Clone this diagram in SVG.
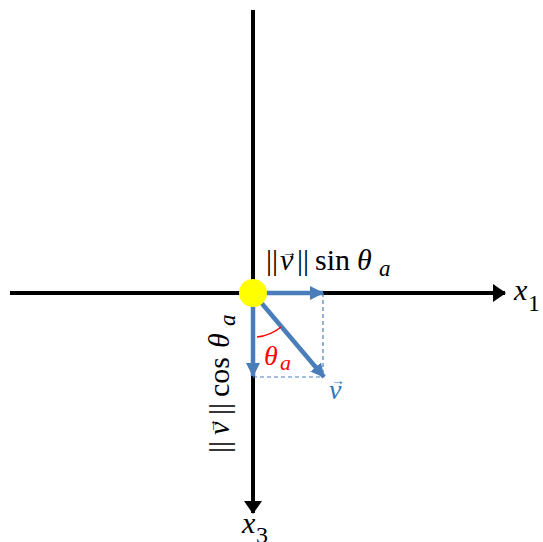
<svg xmlns="http://www.w3.org/2000/svg" width="543" height="542" viewBox="0 0 543 542">
<style>
.ax{stroke:#000;stroke-width:4;fill:none}
.bl{stroke:#4A7EBB;stroke-width:4.5;fill:none}
.dash{stroke:#4A7EBB;stroke-width:1.2;stroke-dasharray:4 3;fill:none}
.t{font-family:"Liberation Serif","DejaVu Serif",serif;fill:#000}
.i{font-style:italic}
.acc{font-style:normal}
</style>
<defs>
<marker id="ka" markerUnits="userSpaceOnUse" markerWidth="14" markerHeight="18" refX="12" refY="9" orient="auto"><path d="M0,0 L13,9 L0,18 Z" fill="#000"/></marker>
<marker id="ba" markerUnits="userSpaceOnUse" markerWidth="14" markerHeight="14" refX="13" refY="7" orient="auto"><path d="M0,0 L14,7 L0,14 Z" fill="#4A7EBB"/></marker>
</defs>
<g id="connectors">
<line class="ax" x1="10" y1="293" x2="505" y2="293" marker-end="url(#ka)"/>
<line class="ax" x1="253" y1="10" x2="253" y2="513" marker-end="url(#ka)"/>
<line class="dash" x1="323" y1="293" x2="323" y2="377"/>
<line class="dash" x1="253" y1="377" x2="323" y2="377"/>
<line class="bl" x1="253" y1="293" x2="323" y2="293" marker-end="url(#ba)"/>
<line class="bl" x1="253" y1="293" x2="253" y2="376" marker-end="url(#ba)"/>
<line class="bl" x1="253" y1="293" x2="324" y2="377" marker-end="url(#ba)"/>
<path d="M257,337 A44,44 0 0 0 281,327" fill="none" stroke="#FF0000" stroke-width="1.5"/>
</g>
<g id="origin"><circle cx="253" cy="293" r="14" fill="#FFFF00"/></g>
<g id="label-sin">
<text class="t" font-size="30"><tspan x="266" y="270">||</tspan><tspan class="i" x="280" y="270">v</tspan><tspan class="acc" x="282" y="257" font-size="15">→</tspan><tspan x="297" y="270">||</tspan><tspan x="315" y="270">sin</tspan><tspan class="i" x="357" y="270">θ</tspan><tspan class="i" x="379" y="276" font-size="23">a</tspan></text>
</g>
<g id="label-cos" transform="translate(229,452) rotate(-90)">
<text class="t" font-size="30"><tspan x="-1" y="0">||</tspan><tspan class="i" x="17" y="0">v</tspan><tspan class="acc" x="19" y="-13" font-size="15">→</tspan><tspan x="37" y="0">||</tspan><tspan x="55" y="0">cos</tspan><tspan class="i" x="104" y="0">θ</tspan><tspan class="i" x="126" y="6" font-size="23">a</tspan></text>
</g>
<g id="label-theta">
<text class="t i" font-size="28" style="fill:#FF0000"><tspan x="264" y="365">θ</tspan><tspan x="280" y="370" font-size="22">a</tspan></text>
</g>
<g id="label-v">
<text class="t i" font-size="28" style="fill:#2E75B6"><tspan x="329" y="399">v</tspan><tspan class="acc" x="331" y="385" font-size="14">→</tspan></text>
</g>
<g id="label-x1">
<text class="t i" font-size="30"><tspan x="514" y="300">x</tspan><tspan class="acc" x="528" y="311" font-size="24">1</tspan></text>
</g>
<g id="label-x3">
<text class="t i" font-size="30"><tspan x="242" y="533">x</tspan><tspan class="acc" x="256" y="543" font-size="24">3</tspan></text>
</g>
</svg>
